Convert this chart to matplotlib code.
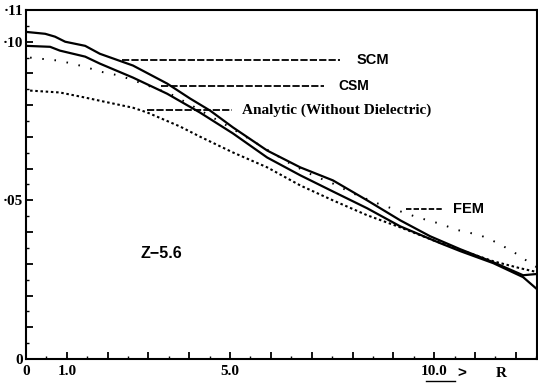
import matplotlib
matplotlib.use("Agg")
import matplotlib.pyplot as plt
import numpy as np

# --- valores (R, valor)
r_scm = [0.0, 0.47, 0.71, 0.96, 1.45, 1.81, 2.62, 3.46, 4.02, 4.51, 5.07, 5.91,
         6.72, 7.52, 8.36, 9.17, 9.90, 10.64, 11.45, 12.18, 12.52]
v_scm = [0.1031, 0.1025, 0.1016, 0.1000, 0.0987, 0.0962, 0.0925, 0.0868, 0.0821,
         0.0783, 0.0730, 0.0657, 0.0604, 0.0563, 0.0500, 0.0437, 0.0387, 0.0346,
         0.0305, 0.0264, 0.0268]

r_csm = [0.0, 0.59, 0.83, 1.45, 1.81, 2.62, 3.46, 4.26, 5.07, 5.91, 6.72, 7.52,
         8.36, 9.17, 10.15, 10.64, 11.45, 12.18, 12.52]
v_csm = [0.0987, 0.0984, 0.0972, 0.0953, 0.0931, 0.0887, 0.0836, 0.0777, 0.0711,
         0.0635, 0.0579, 0.0528, 0.0475, 0.0418, 0.0365, 0.0340, 0.0302, 0.0258,
         0.0220]

r_fem = [0.10, 0.83, 1.45, 1.81, 2.30, 2.79, 3.53, 4.02, 5.00, 5.74, 6.47, 7.03,
         7.52, 8.01, 8.60, 9.09, 9.58, 10.10, 10.59, 11.13, 11.57, 11.86, 12.08,
         12.35, 12.52]
v_fem = [0.0950, 0.0940, 0.0921, 0.0906, 0.0893, 0.0871, 0.0836, 0.0802, 0.0730,
         0.0673, 0.0616, 0.0579, 0.0553, 0.0522, 0.0491, 0.0469, 0.0447, 0.0428,
         0.0406, 0.0390, 0.0365, 0.0343, 0.0327, 0.0302, 0.0289]

r_ana = [0.10, 0.83, 1.45, 1.81, 2.62, 2.97, 3.77, 4.26, 5.07, 5.91, 6.72, 7.52,
         8.36, 9.17, 9.98, 10.81, 11.45, 12.11, 12.52]
v_ana = [0.0846, 0.0840, 0.0824, 0.0814, 0.0792, 0.0777, 0.0733, 0.0701, 0.0651,
         0.0604, 0.0547, 0.0500, 0.0453, 0.0415, 0.0374, 0.0336, 0.0308, 0.0286,
         0.0274]

etiquetas_x = ['0', '1.0', '', '', '', '5.0', '', '', '', '', '10.0', '', '']
etiquetas_y = ['0', '', '', '', '', '\u00b705', '', '', '', '', '\u00b710', '\u00b711']

fig = plt.figure(figsize=(5.38, 3.88), dpi=100)
ax = fig.add_axes([26/538, 29/388, 511/538, 349/388])

ax.plot(r_scm, v_scm, color='k', lw=1.6)
ax.plot(r_csm, v_csm, color='k', lw=1.6)
ax.plot(r_fem, v_fem, color='k', lw=1.4, linestyle=(0, (0.8, 5.5)))
ax.plot(r_ana, v_ana, color='k', lw=1.5, linestyle=(0, (1.2, 1.3)))

ax.set_xlim(0, 12.52)
ax.set_ylim(0, 0.11)

fuente_ticks = dict(family='Liberation Serif', weight='bold', size=11)
ax.set_xticks(np.arange(0, 13, 1))
ax.set_xticks(np.arange(0, 12.6, 0.5), minor=True)
ax.set_xticklabels(etiquetas_x, **fuente_ticks)
ax.set_yticks(np.arange(0, 0.111, 0.01))
ax.set_yticks(np.arange(0, 0.111, 0.005), minor=True)
ax.set_yticklabels(etiquetas_y, **fuente_ticks)
ax.tick_params(which='major', direction='in', length=5, width=1.3, pad=4)
ax.tick_params(which='minor', direction='in', length=2.5, width=1.0)
ax.tick_params(axis='y', pad=2)
for s in ax.spines.values():
    s.set_linewidth(1.5)

# leyendas con lineas de referencia
txt = dict(family='Liberation Sans', weight='bold', color='k')
guion = (0, (4, 1.2))
ax.plot([2.36, 7.7], [0.0941, 0.0941], color='k', lw=1.3, linestyle=guion)
ax.text(8.1, 0.0941, 'SCM', va='center', fontsize=10.5, **txt)
ax.plot([3.3, 7.3], [0.0862, 0.0862], color='k', lw=1.3, linestyle=guion)
ax.text(7.65, 0.0862, 'CSM', va='center', fontsize=10, **txt)
ax.plot([2.97, 5.05], [0.0784, 0.0784], color='k', lw=1.3, linestyle=guion)
ax.text(5.3, 0.0784, 'Analytic (Without Dielectric)', va='center', fontsize=11,
        family='Liberation Serif', weight='bold')
ax.plot([9.3, 10.22], [0.0472, 0.0472], color='k', lw=1.3, linestyle=(0, (3, 1.2)))
ax.text(10.45, 0.0472, 'FEM', va='center', fontsize=10.5, **txt)
ax.text(2.8, 0.0333, 'Z\u22125.6', va='center', fontsize=11.5, **txt)

# flecha del eje R
ax.plot([9.8, 10.5], [-0.0070, -0.0070], color='k', lw=1.0, clip_on=False)
ax.text(10.58, -0.0046, '>', va='center', ha='left', fontsize=11,
        family='Liberation Sans', weight='bold', clip_on=False)
ax.text(11.5, -0.0046, 'R', va='center', ha='left', fontsize=11,
        family='Liberation Serif', weight='bold', clip_on=False)

plt.savefig("out.png", dpi=100)
